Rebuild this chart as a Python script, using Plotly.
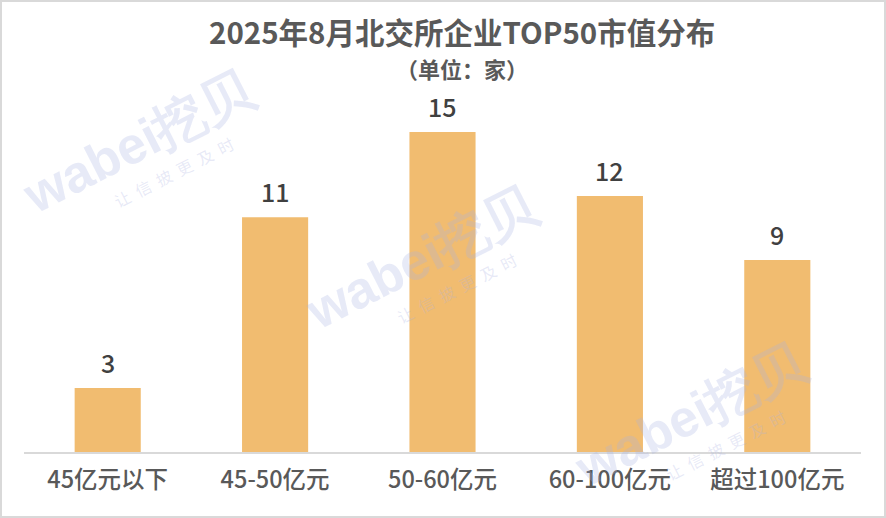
import plotly.graph_objects as go

categories = ["45亿元以下", "45-50亿元", "50-60亿元", "60-100亿元", "超过100亿元"]
counts = [3, 11, 15, 12, 9]

title_text = "2025年8月北交所企业TOP50市值分布"
subtitle_text = "（单位：家）"

W, H = 886, 518
ML, MR, MT, MB = 24, 25, 100, 66
PW = W - ML - MR
PH = H - MT - MB


def px(x):
    return (x - ML) / PW


def py(y):
    return (H - MB - y) / PH


FONT = "Noto Sans CJK SC"

fig = go.Figure()
fig.add_trace(go.Bar(
    x=categories, y=counts,
    marker=dict(color="#F1BC70", line=dict(width=0)),
    width=0.395,
    hoverinfo="skip",
))

annotations = []
for c, v in zip(categories, counts):
    annotations.append(dict(
        x=c, y=v, xref="x", yref="y", text=str(v), showarrow=False,
        yanchor="bottom", yshift=6,
        font=dict(family=FONT, size=25, color="#404040", weight=500),
    ))

annotations.append(dict(
    x=px(462), y=py(31), xref="paper", yref="paper", text=title_text,
    showarrow=False, xanchor="center", yanchor="middle",
    font=dict(family=FONT, size=29.5, color="#595959", weight="bold"),
))
annotations.append(dict(
    x=px(462), y=py(68), xref="paper", yref="paper", text=subtitle_text,
    showarrow=False, xanchor="center", yanchor="middle",
    font=dict(family=FONT, size=22, color="#595959", weight="bold"),
))

# watermarks
wm_centers = [(138, 142), (421, 258), (690, 415)]
for (cx, cy) in wm_centers:
    annotations.append(dict(
        x=px(cx), y=py(cy), xref="paper", yref="paper", text="wabei挖贝",
        showarrow=False, xanchor="center", yanchor="middle", textangle=-27,
        font=dict(family="Liberation Sans", size=52, color="rgba(170,178,225,0.28)", weight="bold"),
    ))
    annotations.append(dict(
        x=px(cx + 36), y=py(cy + 30), xref="paper", yref="paper",
        text="让  信  披  更  及  时",
        showarrow=False, xanchor="center", yanchor="middle", textangle=-27,
        font=dict(family=FONT, size=16, color="rgba(170,178,225,0.28)"),
    ))

fig.update_layout(
    width=W, height=H,
    margin=dict(l=ML, r=MR, t=MT, b=MB, pad=0),
    paper_bgcolor="white", plot_bgcolor="white",
    showlegend=False,
    annotations=annotations,
    shapes=[dict(
        type="rect", xref="paper", yref="paper",
        x0=px(1), x1=px(885), y0=py(517), y1=py(1),
        line=dict(color="#D9D9D9", width=2), fillcolor="rgba(0,0,0,0)", layer="above",
    )],
    xaxis=dict(
        showline=True, linecolor="#D9D9D9", linewidth=2,
        ticks="", showgrid=False, zeroline=False,
        tickfont=dict(family=FONT, size=23.5, color="#595959", weight=500),
        ticklabelstandoff=6,
    ),
    yaxis=dict(
        range=[0, 16.5], visible=False, showgrid=False, zeroline=False,
    ),
)

fig.write_html("out.html", config={"displayModeBar": False},
               post_script="document.body.style.margin='0';")
